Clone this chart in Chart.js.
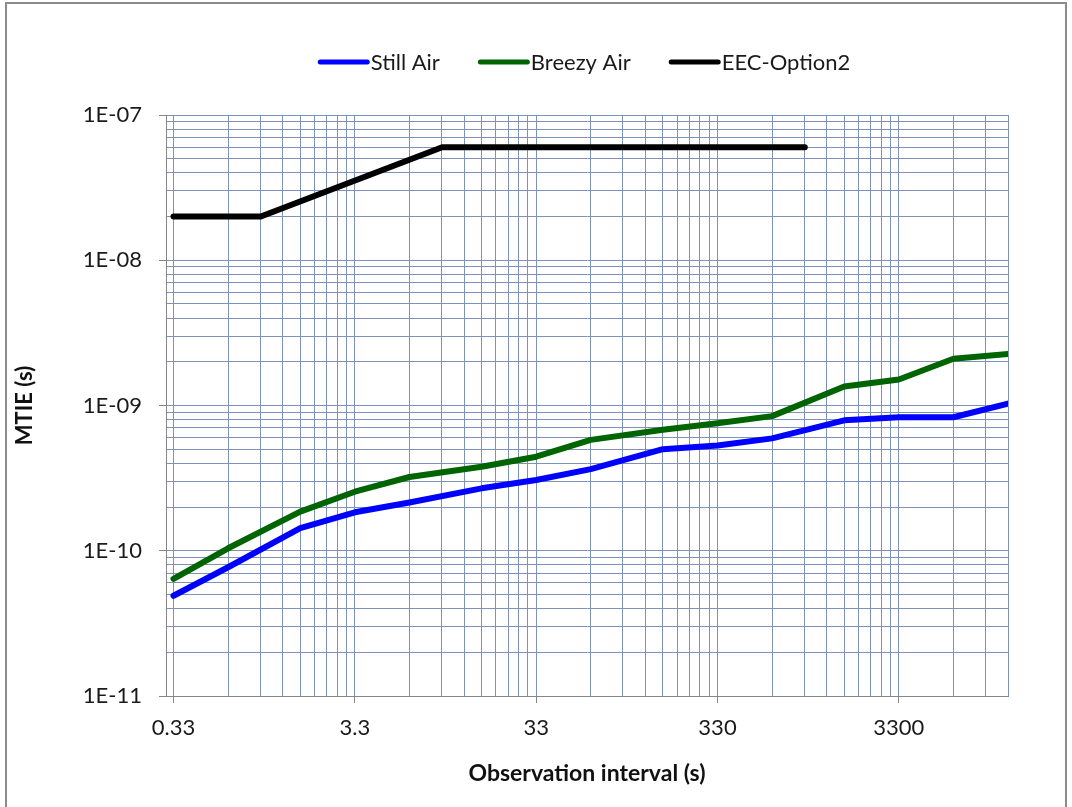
<!DOCTYPE html>
<html lang="en">
<head>
  <meta charset="UTF-8">
  <title>MTIE vs observation interval</title>
  <script src="https://cdn.jsdelivr.net/npm/chart.js"></script>
  <style>
    html, body { margin: 0; padding: 0; background: #fff; overflow: hidden; }
    #wrap { position: relative; width: 1072px; height: 807px; }
    #frame { position: absolute; left: 5px; top: 2px; width: 1062px; height: 840px;
             border: 2px solid #8c8c8c; box-sizing: border-box; pointer-events: none; }
  </style>
</head>
<body>

<div id="wrap">
  <canvas id="mtieChart" width="1072" height="807"></canvas>
  <div id="frame"></div>
</div>

<script>
  // observation intervals (s) of the measured MTIE curves
  const tau = [0.33, 0.66, 1.65, 3.3, 6.6, 16.5, 33, 66, 165, 330, 660, 1650, 3300, 6600, 13200];
  const stillAir  = [4.9e-11, 7.7e-11, 1.43e-10, 1.84e-10, 2.15e-10, 2.69e-10, 3.07e-10, 3.65e-10,
                     5.0e-10, 5.3e-10, 5.94e-10, 7.9e-10, 8.3e-10, 8.3e-10, 1.03e-9];
  const breezyAir = [6.4e-11, 1.04e-10, 1.86e-10, 2.55e-10, 3.22e-10, 3.79e-10, 4.44e-10, 5.8e-10,
                     6.8e-10, 7.55e-10, 8.45e-10, 1.35e-9, 1.51e-9, 2.1e-9, 2.26e-9];

  // EEC option 2 MTIE mask
  const eecTau  = [0.33, 1, 10, 1000];
  const eecMask = [2e-8, 2e-8, 6e-8, 6e-8];

  const xTickLabels = ['0.33', '3.3', '33', '330', '3300'];
  const yTickLabels = ['1E-11', '1E-10', '1E-09', '1E-08', '1E-07'];

  const X_MIN = 0.33, X_MAX = 13200;
  const Y_MIN = 1e-11, Y_MAX = 1e-7;

  const FONT = 'Lato, Carlito, Calibri, sans-serif';
  const GRID = '#7d93b6';
  const AXIS = '#868686';

  // log ticks: every multiple 1..9 of each decade, labels on the decade starts only
  function logTicks(start, max, labels) {
    const out = [];
    labels.forEach((lbl, i) => {
      const base = start * Math.pow(10, i);
      for (let k = 1; k <= 9; k++) {
        const v = Number((base * k).toPrecision(6));
        if (v > max * 1.000001) break;
        out.push({ value: v, lbl: k === 1 ? lbl : '' });
      }
    });
    return out;
  }

  const toPoints = (xs, ys) => xs.map((x, i) => ({ x: x, y: ys[i] }));

  // legend drawn centred over the plot area, short thick line samples
  const lineLegend = {
    id: 'lineLegend',
    afterDraw(chart) {
      const ctx = chart.ctx;
      const area = chart.chartArea;
      const sample = 52, gap = 1, spacing = 38;
      ctx.save();
      ctx.font = '22px ' + FONT;
      ctx.textBaseline = 'middle';
      const items = chart.data.datasets.map(ds => ({
        text: ds.label, color: ds.borderColor, w: ctx.measureText(ds.label).width
      }));
      const total = items.reduce((s, it) => s + sample + gap + it.w, 0) + spacing * (items.length - 1);
      let x = (area.left + area.right) / 2 - total / 2 - 3;
      const y = area.top - 53;
      items.forEach(it => {
        ctx.strokeStyle = it.color;
        ctx.lineWidth = 5;
        ctx.lineCap = 'round';
        ctx.beginPath();
        ctx.moveTo(x + 2.5, y);
        ctx.lineTo(x + sample - 2.5, y);
        ctx.stroke();
        ctx.fillStyle = '#1a1a1a';
        ctx.fillText(it.text, x + sample + gap, y + 1);
        x += sample + gap + it.w + spacing;
      });
      ctx.restore();
    }
  };

  const lineStyle = {
    borderWidth: 6,
    pointRadius: 0,
    pointHoverRadius: 0,
    fill: false,
    tension: 0,
    borderJoinStyle: 'round',
    borderCapStyle: 'round',
    clip: 0
  };

  const ctx = document.getElementById('mtieChart').getContext('2d');

  new Chart(ctx, {
    type: 'line',
    data: {
      datasets: [
        Object.assign({ label: 'Still Air',   data: toPoints(tau, stillAir),   borderColor: '#0000ff' }, lineStyle),
        Object.assign({ label: 'Breezy Air',  data: toPoints(tau, breezyAir),  borderColor: '#006400' }, lineStyle),
        Object.assign({ label: 'EEC-Option2', data: toPoints(eecTau, eecMask), borderColor: '#000000' }, lineStyle)
      ]
    },
    plugins: [lineLegend],
    options: {
      responsive: false,
      animation: false,
      events: [],
      layout: { padding: { left: 8, right: 64, top: 115, bottom: 20 } },
      plugins: {
        legend: { display: false },
        tooltip: { enabled: false }
      },
      scales: {
        x: {
          type: 'logarithmic',
          min: X_MIN,
          max: X_MAX,
          afterBuildTicks: scale => { scale.ticks = logTicks(X_MIN, X_MAX, xTickLabels); },
          afterFit: scale => { scale.height = 807 - 20 - 696; },
          grid: {
            color: GRID,
            lineWidth: 1,
            tickLength: 7,
            tickColor: c => (c.tick && c.tick.lbl) ? AXIS : 'rgba(0,0,0,0)'
          },
          border: { color: AXIS, width: 1 },
          ticks: {
            autoSkip: false,
            maxRotation: 0,
            padding: 12,
            color: '#1a1a1a',
            font: { family: FONT, size: 22 },
            callback: (v, i, ticks) => ticks[i].lbl
          },
          title: {
            display: true,
            text: 'Observation interval (s)',
            color: '#111',
            font: { family: FONT, size: 23, weight: 'bold' },
            padding: { top: 10, bottom: 0 }
          }
        },
        y: {
          type: 'logarithmic',
          min: Y_MIN,
          max: Y_MAX,
          afterBuildTicks: scale => { scale.ticks = logTicks(Y_MIN, Y_MAX, yTickLabels); },
          afterFit: scale => { scale.width = 158; },
          grid: {
            color: GRID,
            lineWidth: 1,
            tickLength: 7,
            tickColor: c => (c.tick && c.tick.lbl) ? AXIS : 'rgba(0,0,0,0)'
          },
          border: { color: AXIS, width: 1 },
          ticks: {
            autoSkip: false,
            padding: 17,
            color: '#1a1a1a',
            font: { family: FONT, size: 22 },
            callback: (v, i, ticks) => ticks[i].lbl
          },
          title: {
            display: true,
            text: 'MTIE (s)',
            color: '#111',
            font: { family: FONT, size: 22, weight: 'bold' },
            padding: { top: 4, bottom: 0 }
          }
        }
      }
    }
  });
</script>

</body>
</html>
